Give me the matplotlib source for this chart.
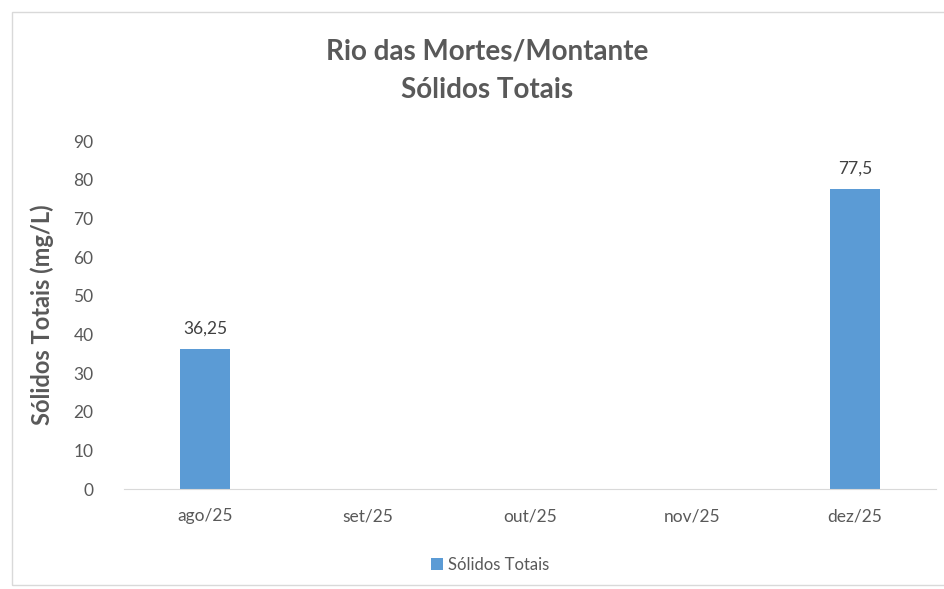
import matplotlib

matplotlib.use("agg")
import matplotlib.pyplot as plt  # noqa: E402
from matplotlib.patches import Rectangle  # noqa: E402

plt.rcParams["font.family"] = ["Lato", "DejaVu Sans"]

# dados (mg/L); meses sem coleta ficam vazios
meses = ["ago/25", "set/25", "out/25", "nov/25", "dez/25"]
solidos = [36.25, None, None, None, 77.5]
rotulos = ["36,25", "", "", "", "77,5"]

W, H = 945, 589
fig = plt.figure(figsize=(W / 100, H / 100), dpi=100)

# moldura da área do gráfico (estilo Excel), borda direita fora da imagem
fig.patches.append(Rectangle((12 / W, 1 - 585 / H), 950 / W, 573 / H,
                             transform=fig.transFigure, fill=False,
                             edgecolor="#D9D9D9", lw=1.0))

ax = fig.add_axes([124 / W, 1 - 489 / H, (936 - 124) / W, (489 - 141) / H])

xs = [i for i, v in enumerate(solidos) if v is not None]
vals = [v for v in solidos if v is not None]
bars = ax.bar(xs, vals, width=0.31, color="#5B9BD5", label="Sólidos Totais")
for b, txt in zip(bars, [rotulos[i] for i in xs]):
    ax.annotate(txt, (b.get_x() + b.get_width() / 2, b.get_height()),
                xytext=(0, 9), textcoords="offset points", ha="center", va="bottom",
                fontsize=12.5, color="#404040")

ax.set_xlim(-0.5, len(meses) - 0.5)
ax.set_ylim(0, 90)
ax.set_yticks(range(0, 91, 10))
ax.set_xticks(range(len(meses)))
ax.set_xticklabels(meses)
ax.tick_params(axis="both", length=0, labelsize=12.5, labelcolor="#595959")
ax.tick_params(axis="x", pad=14)
ax.tick_params(axis="y", pad=22)
for s in ("top", "right", "left"):
    ax.spines[s].set_visible(False)
ax.spines["bottom"].set_color("#D9D9D9")

ax.set_ylabel("Sólidos Totais (mg/L)", fontsize=17, fontweight="bold",
              color="#595959", labelpad=14)

fig.text(487 / W, 1 - 71 / H, "Rio das Mortes/Montante\nSólidos Totais",
         ha="center", va="center", fontsize=20, fontweight="bold",
         color="#595959", linespacing=1.6)

fig.legend(loc="center", bbox_to_anchor=(490 / W, 1 - 565 / H), frameon=False,
           fontsize=12, labelcolor="#595959", handlelength=0.7, handleheight=0.7,
           handletextpad=0.3)

fig.savefig("out.png", dpi=100, facecolor="white")
